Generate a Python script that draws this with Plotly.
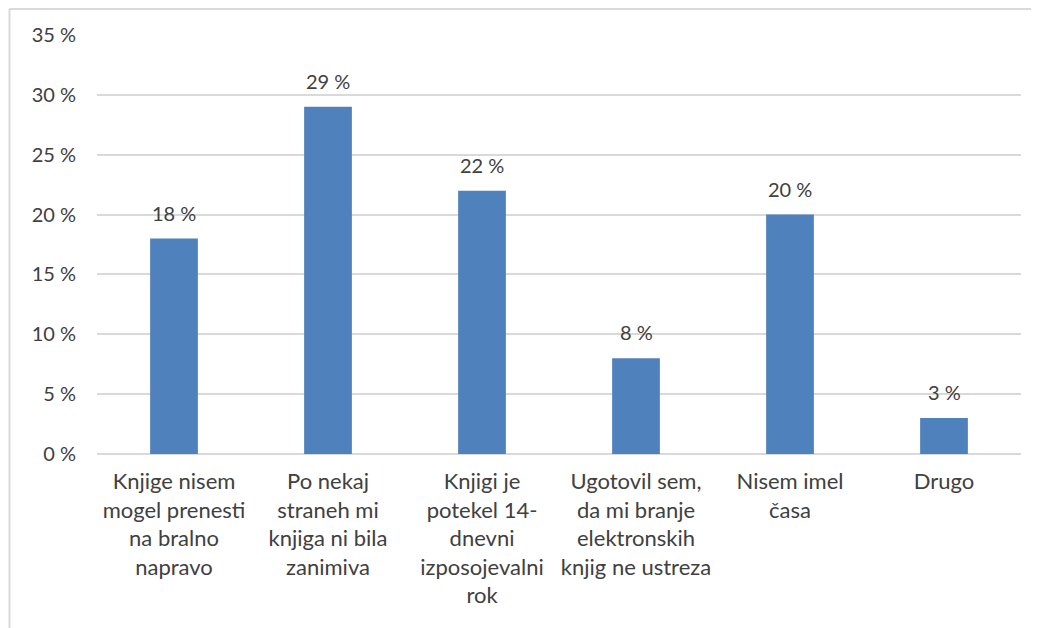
import plotly.graph_objects as go

categories = [
    "Knjige nisem<br>mogel prenesti<br>na bralno<br>napravo",
    "Po nekaj<br>straneh mi<br>knjiga ni bila<br>zanimiva",
    "Knjigi je<br>potekel 14-<br>dnevni<br>izposojevalni<br>rok",
    "Ugotovil sem,<br>da mi branje<br>elektronskih<br>knjig ne ustreza",
    "Nisem imel<br>časa",
    "Drugo",
]
values = [18, 29, 22, 8, 20, 3]
tick_vals = [0, 5, 10, 15, 20, 25, 30, 35]
tick_text = ["0 %", "5 %", "10 %", "15 %", "20 %", "25 %", "30 %", "35 %"]
value_labels = [f"{v} %" for v in values]

FONT = "Lato"
TXT = "#404040"

# page body has an 8px margin; plot area should be at page x 97..1021, y 35..454
L, T, R, B = 89, 27, 26, 182
PW = 1039 - L - R
PH = 628 - T - B

fig = go.Figure(
    go.Bar(
        x=categories,
        y=values,
        marker=dict(color="#4F81BD", line=dict(width=0)),
        cliponaxis=False,
    )
)

for c, v, t in zip(categories, values, value_labels):
    fig.add_annotation(
        x=c, y=v, text=t, showarrow=False, yanchor="bottom",
        yshift=12, font=dict(family=FONT, size=20, color=TXT),
    )

fx = (1.5 - L) / PW        # left border near figure x 1.5
fy = (PH + T - 1) / PH     # top border near figure y 1
fig.update_layout(
    width=1039,
    height=628,
    margin=dict(l=L, r=R, t=T, b=B),
    paper_bgcolor="white",
    plot_bgcolor="white",
    bargap=0.69,
    showlegend=False,
    font=dict(family=FONT, size=20, color=TXT),
    xaxis=dict(
        showgrid=False,
        showline=False,
        tickfont=dict(family=FONT, size=22, color=TXT),
        ticklabelstandoff=12,
    ),
    yaxis=dict(
        range=[0, 35],
        tickvals=tick_vals,
        ticktext=tick_text,
        showgrid=True,
        gridcolor="#d9d9d9",
        gridwidth=1.5,
        zeroline=True,
        zerolinecolor="#d9d9d9",
        zerolinewidth=1.5,
        showline=False,
        tickfont=dict(family=FONT, size=20, color=TXT),
        ticklabelstandoff=20,
    ),
    shapes=[
        dict(type="line", xref="paper", yref="paper",
             x0=fx, x1=1.1, y0=fy, y1=fy,
             line=dict(color="#d9d9d9", width=2)),
        dict(type="line", xref="paper", yref="paper",
             x0=fx, x1=fx, y0=fy, y1=-0.6,
             line=dict(color="#d9d9d9", width=2)),
    ],
)

fig.write_html("out.html")
